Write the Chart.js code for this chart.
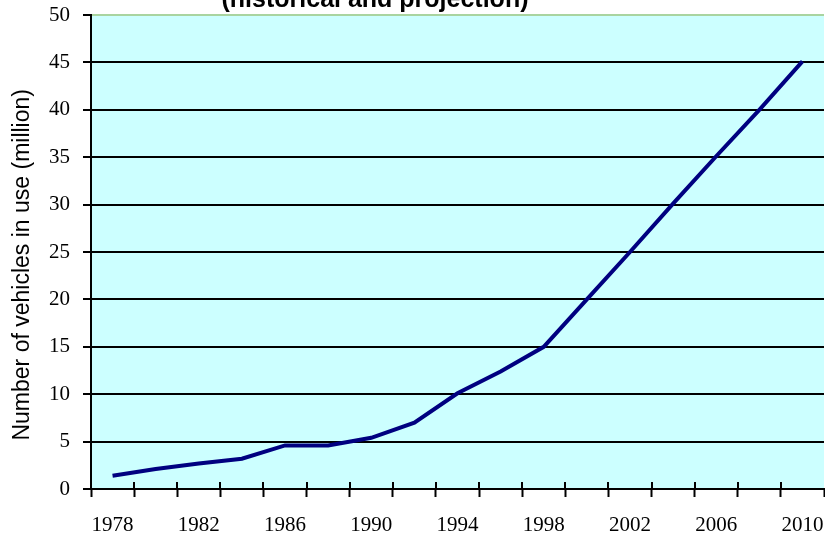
<!DOCTYPE html>
<html>
<head>
<meta charset="utf-8">
<script src="https://cdn.jsdelivr.net/npm/chart.js@4"></script>
<style>
  html, body { margin: 0; padding: 0; background: #ffffff; }
  #wrap { position: relative; width: 825px; height: 535px; overflow: hidden; }
</style>
</head>
<body>
<div id="wrap"><canvas id="c"></canvas></div>
<script>
const titleText = '(historical and projection)';
const yAxisTitle = 'Number of vehicles in use (million)    ';
const years = ['1978','1980','1982','1984','1986','1988','1990','1992','1994','1996','1998','2000','2002','2004','2006','2008','2010'];
const vehicles = [1.4, 2.1, 2.7, 3.2, 4.6, 4.6, 5.4, 7.0, 10.1, 12.4, 15.0, 20.0, 25.0, 30.1, 35.1, 40.0, 45.1];
const yTicks = [0, 5, 10, 15, 20, 25, 30, 35, 40, 45, 50];

const plotBg = {
  id: 'plotBg',
  beforeDraw(chart) {
    const {ctx, chartArea: a} = chart;
    ctx.save();
    ctx.fillStyle = '#ccffff';
    ctx.fillRect(a.left, a.top, a.right - a.left, a.bottom - a.top);
    ctx.restore();
  }
};

const innerTicks = {
  id: 'innerTicks',
  afterDatasetsDraw(chart) {
    const {ctx, chartArea: a, scales: {x}} = chart;
    const half = (x.getPixelForValue(1) - x.getPixelForValue(0)) / 2;
    ctx.save();
    ctx.strokeStyle = '#000';
    ctx.lineWidth = 2;
    ctx.beginPath();
    for (let i = 0; i < years.length; i++) {
      const px = Math.round(x.getPixelForValue(i) - half);
      ctx.moveTo(px, a.bottom);
      ctx.lineTo(px, a.bottom - 7);
    }
    ctx.stroke();
    ctx.restore();
  }
};

const topTitle = {
  id: 'topTitle',
  afterDraw(chart) {
    const ctx = chart.ctx;
    ctx.save();
    ctx.font = 'bold 25px "Liberation Sans", Arial, sans-serif';
    ctx.fillStyle = '#000';
    ctx.textAlign = 'center';
    ctx.textBaseline = 'alphabetic';
    ctx.fillText(titleText, 375, 7);
    ctx.restore();
  }
};

new Chart(document.getElementById('c'), {
  type: 'line',
  data: {
    labels: years,
    datasets: [{
      data: vehicles,
      borderColor: '#000080',
      borderWidth: 4,
      pointRadius: 0,
      tension: 0,
      fill: false
    }]
  },
  options: {
    responsive: true,
    maintainAspectRatio: false,
    devicePixelRatio: 1,
    animation: false,
    layout: { padding: { top: 15, right: 1, left: 0, bottom: 0 } },
    plugins: { legend: { display: false }, tooltip: { enabled: false }, title: { display: false } },
    scales: {
      x: {
        type: 'category',
        offset: true,
        afterFit(s) { s.height = 46; s.paddingRight = 0; s.paddingLeft = 0; },
        grid: {
          offset: true,
          drawOnChartArea: false,
          drawTicks: true,
          tickLength: 8,
          tickWidth: 2,
          tickColor: '#000'
        },
        border: { display: true, color: '#000', width: 2 },
        ticks: {
          autoSkip: false,
          maxRotation: 0,
          padding: 16,
          color: '#000',
          font: { family: '"Liberation Serif", "Times New Roman", serif', size: 21 },
          callback(v, i) { return i % 2 === 0 ? years[i] : ''; }
        }
      },
      y: {
        min: 0,
        max: 50,
        afterFit(s) { s.width = 91; s.paddingTop = 0; s.paddingBottom = 0; },
        afterBuildTicks(s) { s.ticks = yTicks.map(v => ({ value: v })); },
        grid: {
          color(ctx) { return ctx.tick && ctx.tick.value === 50 ? '#a9d4a0' : '#000'; },
          lineWidth: 2,
          drawTicks: true,
          tickLength: 8,
          tickColor: '#000',
          tickWidth: 2
        },
        border: { display: true, color: '#000', width: 2 },
        ticks: {
          padding: 13,
          color: '#000',
          font: { family: '"Liberation Serif", "Times New Roman", serif', size: 21 }
        },
        title: {
          display: true,
          text: yAxisTitle,
          color: '#000',
          padding: { top: 9, bottom: 0 },
          font: { family: '"Liberation Sans", Arial, sans-serif', size: 23, weight: 'normal' }
        }
      }
    }
  },
  plugins: [plotBg, innerTicks, topTitle]
});
</script>
</body>
</html>
